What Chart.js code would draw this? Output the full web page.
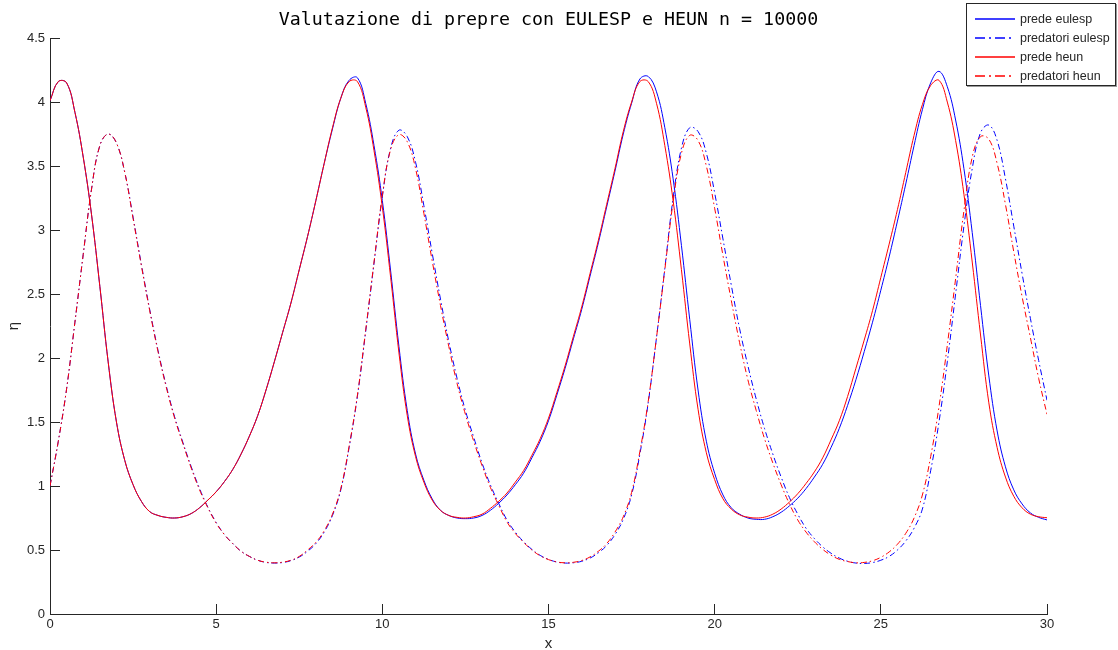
<!DOCTYPE html>
<html>
<head>
<meta charset="utf-8">
<title>Valutazione di prepre con EULESP e HEUN</title>
<script src="https://cdn.jsdelivr.net/npm/chart.js@4.4.1/dist/chart.umd.min.js"></script>
<style>
  body { margin: 0; background: #fff; }
  #wrap { position: relative; width: 1118px; height: 650px; }
  #legend {
    position: absolute; left: 966px; top: 3px; width: 150px; height: 83px;
    box-sizing: border-box; border: 1px solid #262626; background: #fff;
    box-shadow: 1px 1px 0 #9a9a9a; padding-top: 5px;
    font: 12.5px "Liberation Sans", Arial, sans-serif; color: #262626;
  }
  .row { display: flex; align-items: center; height: 19px; }
  .row svg { margin-left: 8px; margin-right: 5px; }
</style>
</head>
<body>
<div id="wrap">
  <canvas id="chart" width="1118" height="650"></canvas>
  <div id="legend"></div>
</div>
<script>
// time grid (x axis)
const tValues = [
  0, 0.25, 0.5, 0.75, 1, 1.25, 1.5, 1.75, 2, 2.25, 2.5, 2.75,
  3, 3.25, 3.5, 3.75, 4, 4.25, 4.5, 4.75, 5, 5.25, 5.5, 5.75,
  6, 6.25, 6.5, 6.75, 7, 7.25, 7.5, 7.75, 8, 8.25, 8.5, 8.75,
  9, 9.25, 9.5, 9.75, 10, 10.25, 10.5, 10.75, 11, 11.25, 11.5, 11.75,
  12, 12.25, 12.5, 12.75, 13, 13.25, 13.5, 13.75, 14, 14.25, 14.5, 14.75,
  15, 15.25, 15.5, 15.75, 16, 16.25, 16.5, 16.75, 17, 17.25, 17.5, 17.75,
  18, 18.25, 18.5, 18.75, 19, 19.25, 19.5, 19.75, 20, 20.25, 20.5, 20.75,
  21, 21.25, 21.5, 21.75, 22, 22.25, 22.5, 22.75, 23, 23.25, 23.5, 23.75,
  24, 24.25, 24.5, 24.75, 25, 25.25, 25.5, 25.75, 26, 26.25, 26.5, 26.75,
  27, 27.25, 27.5, 27.75, 28, 28.25, 28.5, 28.75, 29, 29.25, 29.5, 29.75,
  30
];

// one row per unit of x (x, x+.25, x+.5, x+.75)
const predeEulesp = [
  4.01, 4.16, 4.15, 3.92,   3.57, 3.12, 2.56, 1.97,   1.50, 1.20, 1.01, 0.88,
  0.80, 0.77, 0.755, 0.75,  0.76, 0.785, 0.83, 0.89,  0.955, 1.035, 1.13, 1.25,
  1.39, 1.55, 1.75, 1.97,   2.20, 2.43, 2.69, 2.95,   3.23, 3.52, 3.79, 4.03,
  4.17, 4.19, 3.99, 3.66,   3.23, 2.68, 2.09, 1.59,   1.25, 1.045, 0.90, 0.81,
  0.77, 0.75, 0.745, 0.75,  0.77, 0.81, 0.865, 0.93,  1.01, 1.10, 1.22, 1.35,
  1.51, 1.71, 1.92, 2.15,   2.38, 2.64, 2.90, 3.18,   3.46, 3.75, 3.99, 4.18,
  4.20, 4.08, 3.80, 3.40,   2.88, 2.30, 1.75, 1.35,   1.10, 0.93, 0.83, 0.78,
  0.75, 0.74, 0.74, 0.76,   0.795, 0.845, 0.905, 0.98, 1.07, 1.17, 1.30, 1.45,
  1.63, 1.83, 2.05, 2.28,   2.53, 2.79, 3.07, 3.36,   3.66, 3.94, 4.15, 4.24,
  4.12, 3.86, 3.48, 2.98,   2.41, 1.86, 1.43, 1.15,   0.97, 0.86, 0.79, 0.755,
  0.735
];

const predatoriEulesp = [
  1.00, 1.35, 1.76, 2.28,   2.81, 3.32, 3.66, 3.75,   3.68, 3.45, 3.10, 2.73,
  2.38, 2.06, 1.78, 1.54,   1.34, 1.15, 0.98, 0.835,  0.715, 0.62, 0.55, 0.49,
  0.45, 0.42, 0.403, 0.398, 0.402, 0.417, 0.445, 0.49, 0.55, 0.64, 0.77, 0.97,
  1.30, 1.70, 2.21, 2.74,   3.26, 3.64, 3.78, 3.73,   3.53, 3.19, 2.82, 2.46,
  2.13, 1.84, 1.59, 1.38,   1.18, 1.01, 0.865, 0.735, 0.64, 0.565, 0.505, 0.458,
  0.427, 0.406, 0.398, 0.40, 0.412, 0.437, 0.478, 0.535, 0.62, 0.74, 0.93, 1.25,
  1.65, 2.16, 2.70, 3.25,   3.64, 3.80, 3.77, 3.60,   3.29, 2.93, 2.57, 2.23,
  1.94, 1.68, 1.45, 1.25,   1.07, 0.91, 0.78, 0.67,   0.59, 0.525, 0.475, 0.437,
  0.412, 0.398, 0.395, 0.402, 0.42, 0.45, 0.50, 0.57, 0.67, 0.82, 1.12, 1.50,
  1.97, 2.50, 3.03, 3.48,   3.76, 3.82, 3.70, 3.40,   3.03, 2.66, 2.31, 1.98,
  1.67
];

const predeHeun = [
  4.01, 4.16, 4.15, 3.92,   3.57, 3.12, 2.56, 1.97,   1.50, 1.20, 1.01, 0.88,
  0.80, 0.77, 0.755, 0.75,  0.76, 0.785, 0.83, 0.89,  0.955, 1.035, 1.13, 1.25,
  1.39, 1.55, 1.75, 1.97,   2.20, 2.43, 2.69, 2.95,   3.23, 3.52, 3.80, 4.03,
  4.16, 4.16, 3.96, 3.62,   3.18, 2.63, 2.04, 1.55,   1.23, 1.03, 0.89, 0.81,
  0.77, 0.755, 0.75, 0.76,  0.78, 0.825, 0.88, 0.945, 1.03, 1.12, 1.24, 1.37,
  1.53, 1.73, 1.94, 2.17,   2.40, 2.66, 2.92, 3.20,   3.48, 3.77, 4.00, 4.16,
  4.16, 3.99, 3.66, 3.23,   2.69, 2.11, 1.60, 1.26,   1.05, 0.90, 0.82, 0.775,
  0.757, 0.75, 0.757, 0.78, 0.82, 0.875, 0.94, 1.02,  1.11, 1.22, 1.36, 1.51,
  1.70, 1.92, 2.14, 2.37,   2.63, 2.89, 3.16, 3.45,   3.74, 3.98, 4.13, 4.17,
  4.00, 3.70, 3.28, 2.75,   2.18, 1.65, 1.30, 1.07,   0.92, 0.83, 0.78, 0.76,
  0.752
];

const predatoriHeun = [
  1.00, 1.35, 1.76, 2.28,   2.81, 3.32, 3.66, 3.75,   3.68, 3.45, 3.09, 2.72,
  2.37, 2.05, 1.77, 1.53,   1.33, 1.14, 0.97, 0.83,   0.71, 0.62, 0.55, 0.49,
  0.45, 0.42, 0.405, 0.40,  0.405, 0.42, 0.45, 0.50,  0.56, 0.65, 0.78, 0.98,
  1.31, 1.71, 2.22, 2.75,   3.27, 3.63, 3.745, 3.69,  3.48, 3.13, 2.76, 2.41,
  2.09, 1.80, 1.56, 1.35,   1.16, 0.99, 0.85, 0.72,   0.63, 0.56, 0.50, 0.455,
  0.425, 0.407, 0.40, 0.404, 0.418, 0.446, 0.49, 0.55, 0.64, 0.76, 0.95, 1.27,
  1.66, 2.16, 2.69, 3.22,   3.60, 3.74, 3.70, 3.50,   3.17, 2.80, 2.45, 2.12,
  1.83, 1.59, 1.37, 1.18,   1.01, 0.86, 0.735, 0.64,  0.565, 0.505, 0.46, 0.427,
  0.41, 0.40, 0.403, 0.416, 0.443, 0.485, 0.545, 0.63, 0.75, 0.93, 1.23, 1.62,
  2.10, 2.62, 3.15, 3.57,   3.73, 3.71, 3.52, 3.20,   2.83, 2.48, 2.16, 1.84,
  1.56
];

const seriesNames = ["prede eulesp", "predatori eulesp", "prede heun", "predatori heun"];
const xTicks = { min: 0, max: 30, step: 5 };
const yTicks = { min: 0, max: 4.5, step: 0.5 };

const axisColor = "#262626";
const dashDot = [6, 3, 1.5, 3];

function lineSet(label, values, color, dashed, order) {
  return {
    label: label,
    data: values,
    borderColor: color,
    borderWidth: 1,
    borderDash: dashed ? dashDot : [],
    pointRadius: 0,
    fill: false,
    tension: 0.4,
    order: order,
  };
}

const datasets = [
  lineSet(seriesNames[0], predeEulesp, "#0000ff", false, 2),
  lineSet(seriesNames[1], predatoriEulesp, "#0000ff", true, 2),
  lineSet(seriesNames[2], predeHeun, "#ff0000", false, 1),
  lineSet(seriesNames[3], predatoriHeun, "#ff0000", true, 1),
];

const tickFont = { family: "'Liberation Sans', Arial, sans-serif", size: 13 };
const labelFont = { family: "'Liberation Sans', Arial, sans-serif", size: 15 };

new Chart(document.getElementById("chart"), {
  type: "line",
  data: { labels: tValues, datasets: datasets },
  options: {
    responsive: false,
    animation: false,
    layout: { padding: { left: 0, right: 71, top: 0, bottom: 0 } },
    plugins: {
      legend: { display: false },
      tooltip: { enabled: false },
      title: {
        display: true,
        fullSize: false,
        text: "Valutazione di prepre con EULESP e HEUN n = 10000",
        color: "#000",
        font: { family: "'DejaVu Sans Mono', monospace", size: 18.3, weight: "normal" },
        padding: { top: 9, bottom: 7.1 },
      },
    },
    scales: {
      x: {
        type: "linear",
        min: xTicks.min,
        max: xTicks.max,
        afterFit: (scale) => { scale.height = 36; },
        ticks: { stepSize: xTicks.step, color: axisColor, font: tickFont, padding: 13, maxRotation: 0 },
        grid: { drawOnChartArea: false, drawTicks: true, tickLength: -10, color: axisColor },
        border: { display: true, color: axisColor, width: 1 },
        title: { display: true, text: "x", color: axisColor, font: labelFont, padding: { top: 0, bottom: -3 } },
      },
      y: {
        min: yTicks.min,
        max: yTicks.max,
        afterFit: (scale) => { scale.width = 50; },
        ticks: {
          stepSize: yTicks.step, color: axisColor, font: tickFont, padding: 15,
          callback: (v) => String(Number(v)),
        },
        grid: { drawOnChartArea: false, drawTicks: true, tickLength: -10, color: axisColor },
        border: { display: true, color: axisColor, width: 1 },
        title: { display: true, text: "η", color: axisColor, font: labelFont, padding: { top: 5, bottom: 0 } },
      },
    },
  },
});

// legend box, MATLAB style (longer dashes in the samples)
const legend = document.getElementById("legend");
datasets.forEach((ds) => {
  const row = document.createElement("div");
  row.className = "row";
  const dash = ds.borderDash.length ? 'stroke-dasharray="10 4 2 4"' : "";
  row.innerHTML = `
    <svg width="40" height="19"><line x1="0" y1="10" x2="40" y2="10" stroke="${ds.borderColor}" stroke-width="1.5" ${dash}/></svg>
    <span>${ds.label}</span>
  `;
  legend.appendChild(row);
});
</script>
</body>
</html>
